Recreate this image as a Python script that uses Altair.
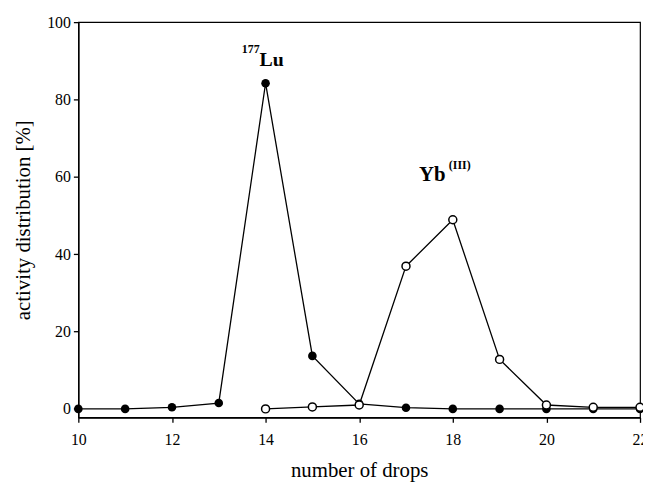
import altair as alt
import pandas as pd

# Data
lu_drops = [10, 11, 12, 13, 14, 15, 16, 17, 18, 19, 20, 21, 22]
lu_values = [0.0, 0.0, 0.4, 1.5, 84.2, 13.7, 1.3, 0.3, 0.0, 0.0, 0.0, 0.0, 0.0]
yb_drops = [14, 15, 16, 17, 18, 19, 20, 21, 22]
yb_values = [0.0, 0.5, 1.0, 36.9, 48.9, 12.8, 1.0, 0.4, 0.4]

x_ticks = [10, 12, 14, 16, 18, 20, 22]
y_ticks = [0, 20, 40, 60, 80, 100]

lu = pd.DataFrame({"drops": lu_drops, "value": lu_values})
yb = pd.DataFrame({"drops": yb_drops, "value": yb_values})

FONT = "Liberation Serif"

x_enc = alt.X("drops:Q", title="number of drops",
              scale=alt.Scale(domain=[10, 22], nice=False, zero=False),
              axis=alt.Axis(values=x_ticks, format="d", grid=False, tickSize=5,
                            labelPadding=9, titlePadding=13, labelFontSize=16,
                            titleFontSize=21, labelFont=FONT, titleFont=FONT,
                            titleFontWeight="normal", domainColor="black",
                            tickColor="black", labelColor="black", titleColor="black",
                            labelFlush=False))
y_enc = alt.Y("value:Q", title="activity distribution [%]",
              scale=alt.Scale(domain=[-2.2, 100], nice=False, zero=False),
              axis=alt.Axis(values=y_ticks, grid=False, tickSize=5, labelPadding=3,
                            titlePadding=13, labelFontSize=16, titleFontSize=21,
                            labelFont=FONT, titleFont=FONT, titleFontWeight="normal",
                            domainColor="black", tickColor="black", labelColor="black",
                            titleColor="black", labelFlush=False))

lu_line = alt.Chart(lu).mark_line(color="black", strokeWidth=1.3).encode(x=x_enc, y=y_enc)
lu_pts = alt.Chart(lu).mark_circle(color="black", size=75, opacity=1).encode(x="drops:Q", y="value:Q")
yb_line = alt.Chart(yb).mark_line(color="black", strokeWidth=1.3).encode(x="drops:Q", y="value:Q")
yb_pts = alt.Chart(yb).mark_circle(fill="white", stroke="black", strokeWidth=1.5,
                                   size=65, opacity=1, fillOpacity=1).encode(x="drops:Q", y="value:Q")

# Annotation labels (text with superscripts)
ann = pd.DataFrame({
    "x": [13.873, 13.873, 17.28, 17.915],
    "y": [92.0, 88.65, 59.0, 62.1],
    "t": ["177", "Lu", "Yb", "(III)"],
    "align": ["right", "left", "left", "left"],
    "size": [12, 20, 21, 12],
})
def text_layer(i):
    row = ann.iloc[[i]]
    return alt.Chart(row).mark_text(
        font=FONT, fontWeight="bold", fontSize=int(ann["size"][i]),
        align=ann["align"][i], baseline="alphabetic", color="black"
    ).encode(x="x:Q", y="y:Q", text="t:N")

texts = [text_layer(i) for i in range(len(ann))]

chart = alt.layer(lu_line, lu_pts, yb_line, yb_pts, *texts).properties(
    width=567, height=399,
    autosize=alt.AutoSizeParams(type="none"),
    padding={"left": 71, "top": 12, "right": 3, "bottom": 67},
).configure_view(stroke="black", strokeWidth=1.2).configure_axis(domainWidth=1.5, tickWidth=1.3)

chart.save("out.html", embed_options={"renderer": "svg", "actions": False})
